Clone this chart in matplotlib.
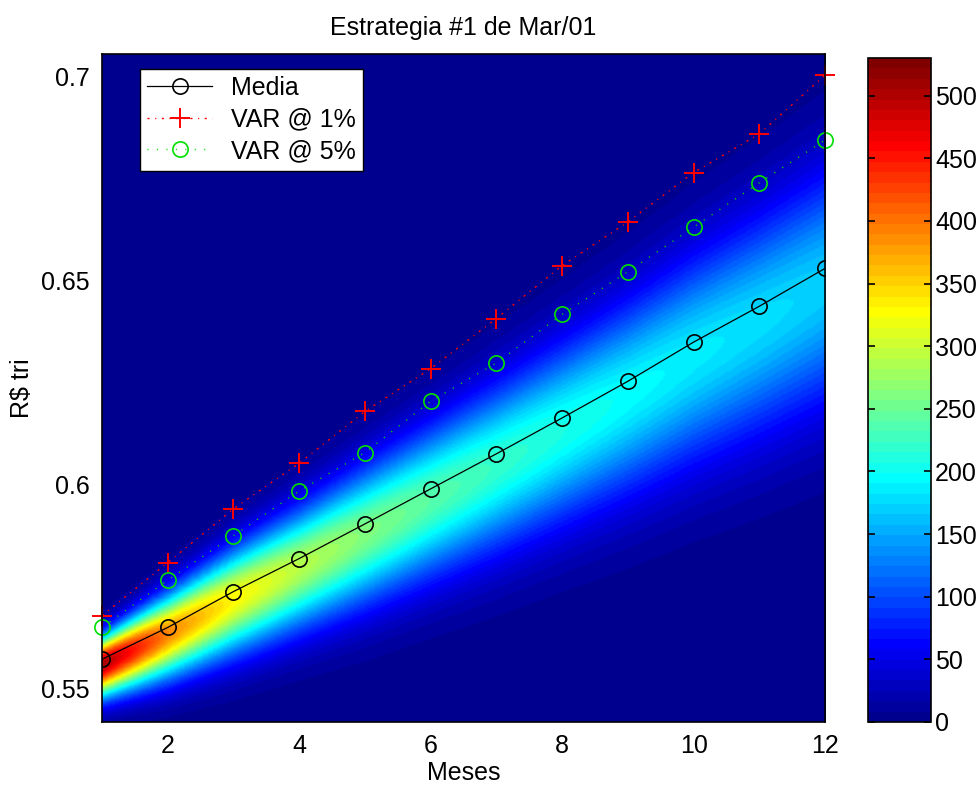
import numpy as np
import matplotlib
matplotlib.use("Agg")
import matplotlib.pyplot as plt
from matplotlib.colors import ListedColormap

# ---------------- data ----------------
meses = np.arange(1, 13)
media = [0.5571, 0.5649, 0.5737, 0.5818, 0.5903, 0.5989,
         0.6075, 0.6163, 0.6253, 0.6349, 0.6437, 0.6530]
var1 = [0.5678, 0.5808, 0.5940, 0.6052, 0.6179, 0.6284,
        0.6407, 0.6537, 0.6644, 0.6765, 0.6860, 0.7004]
var5 = [0.5649, 0.5765, 0.5874, 0.5984, 0.6078, 0.6204,
        0.6298, 0.6417, 0.6522, 0.6631, 0.6740, 0.6845]

# density ridge per month: mode, peak value, lower/upper spread
moda = [0.5558, 0.5633, 0.5718, 0.5797, 0.5880, 0.5963,
        0.6047, 0.6133, 0.6220, 0.6313, 0.6398, 0.6488]
pico = [505, 390, 330, 290, 262, 240, 222, 208, 196, 186, 178, 170]
desvio_inf = [0.0054, 0.0074, 0.0092, 0.0105, 0.0120, 0.0132,
              0.0145, 0.0157, 0.0170, 0.0183, 0.0195, 0.0207]
desvio_sup = [0.0045, 0.0066, 0.0083, 0.0096, 0.0110, 0.0122,
              0.0134, 0.0146, 0.0158, 0.0171, 0.0182, 0.0194]

yticks = [0.55, 0.6, 0.65, 0.7]
yticklabels = ["0.55", "0.6", "0.65", "0.7"]
xticks = [2, 4, 6, 8, 10, 12]
cticks = [0, 50, 100, 150, 200, 250, 300, 350, 400, 450, 500]
ylim = (0.5417, 0.7056)
clim = (0, 530)

# ---------------- MATLAB-style jet(64) ----------------
def matlab_jet(m=64):
    n = int(np.ceil(m / 4))
    u = np.concatenate([np.arange(1, n + 1) / n, np.ones(n - 1), np.arange(n, 0, -1) / n])
    g = int(np.ceil(n / 2)) - (1 if m % 4 == 1 else 0) + np.arange(1, len(u) + 1)
    r = g + n
    b = g - n
    g = g[g <= m]
    r = r[r <= m]
    b = b[b >= 1]
    J = np.zeros((m, 3))
    J[r - 1, 0] = u[:len(r)]
    J[g - 1, 1] = u[:len(g)]
    J[b - 1, 2] = u[len(u) - len(b):]
    return ListedColormap(J)

cmap = matlab_jet(64)

plt.rcParams['font.family'] = ['Liberation Sans', 'DejaVu Sans']
FS = 18

fig = plt.figure(figsize=(9.78, 7.87), dpi=100)
ax = fig.add_axes([0.1043, 0.0826, 0.7393, 0.8488])
cax = fig.add_axes([0.8875, 0.0826, 0.0644, 0.8437])

# density field built from per-month parameters
xg = np.linspace(1, 12, 400)
yg = np.linspace(ylim[0], ylim[1], 500)
m_x = np.interp(xg, meses, moda)
p_x = np.interp(xg, meses, pico)
sl_x = np.interp(xg, meses, desvio_inf)
su_x = np.interp(xg, meses, desvio_sup)
Y, _ = np.meshgrid(yg, xg, indexing='ij')
S = np.where(Y < m_x[None, :], sl_x[None, :], su_x[None, :])
Z = p_x[None, :] * np.exp(-0.5 * ((Y - m_x[None, :]) / S) ** 2)

im = ax.imshow(Z, extent=[1, 12, ylim[0], ylim[1]], origin='lower', aspect='auto',
               cmap=cmap, vmin=clim[0], vmax=clim[1], interpolation='bilinear', zorder=0)

ax.plot(meses, media, color='black', linestyle='-', linewidth=0.9, marker='o',
        markersize=11, markerfacecolor='none', markeredgewidth=1.2, label='Media', zorder=3)
ax.plot(meses, var1, color='red', linestyle=(0, (1.5, 4, 0.8, 4)), linewidth=1.0, marker='+',
        markersize=14, markeredgewidth=1.4, label='VAR @ 1%', zorder=3, clip_on=False)
ax.plot(meses, var5, color='#00e000', linestyle=(0, (0.8, 6)), linewidth=1.0, marker='o',
        markersize=11, markerfacecolor='none', markeredgewidth=1.2, label='VAR @ 5%', zorder=3,
        clip_on=False)

ax.set_xlim(1, 12)
ax.set_ylim(*ylim)
ax.set_xticks(xticks)
ax.set_yticks(yticks)
ax.set_yticklabels(yticklabels)
ax.tick_params(length=0, labelsize=FS, pad=9)
for s in ax.spines.values():
    s.set_linewidth(1.2)
    s.set_zorder(5)

ax.set_title("Estrategia #1 de Mar/01", fontsize=FS, pad=14)
ax.set_xlabel("Meses", fontsize=FS, labelpad=2)
ax.set_ylabel(r"R\$ tri", fontsize=FS, labelpad=5)

leg = ax.legend(loc='upper left', bbox_to_anchor=(0.052, 0.978), fontsize=FS,
                frameon=True, fancybox=False, framealpha=1, edgecolor='black',
                handlelength=2.6, borderpad=0.3, labelspacing=0.3, handletextpad=0.75,
                borderaxespad=0.0)
leg.get_frame().set_linewidth(1.0)

cb = fig.colorbar(im, cax=cax, ticks=cticks)
cax.tick_params(labelsize=FS, direction='in', length=5, width=1.2, left=True, right=True, pad=3)
cb.outline.set_linewidth(1.2)

fig.savefig("out.png", dpi=100)
